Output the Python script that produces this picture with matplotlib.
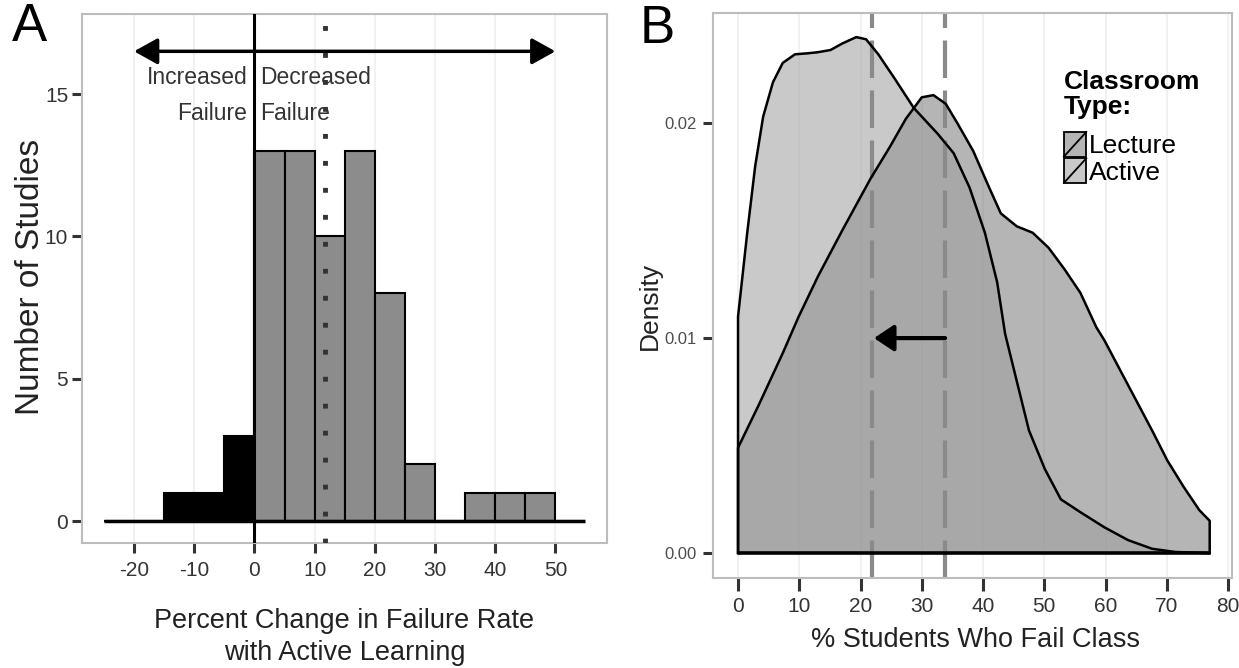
import numpy as np
import matplotlib
matplotlib.use("Agg")
import matplotlib.pyplot as plt
from matplotlib.legend_handler import HandlerBase
from matplotlib.patches import Rectangle, Patch
from matplotlib.lines import Line2D

plt.rcParams['font.family'] = ['Liberation Sans', 'DejaVu Sans']

# ---- panel A: histogram of percent change in failure rate
bin_edges = list(range(-25, 60, 5))
counts = [0, 0, 1, 1, 3, 13, 13, 10, 13, 8, 2, 0, 1, 1, 1, 0]
mean_change = 11.7
arrow_span = (-20, 50)
arrow_y = 16.5
xticks_a = [-20, -10, 0, 10, 20, 30, 40, 50]
yticks_a = [0, 5, 10, 15]

# ---- panel B: density of % students failing
active_x = [0, 1.5, 2.8, 4.1, 5.7, 7.3, 9.3, 11.5, 13.1, 15.1, 17.0, 19.3, 20.9, 22.9,
            25.5, 28.7, 32.6, 35.2, 37.8, 40.3, 42.3, 43.6, 45.5, 47.5, 50.1, 52.7,
            55.9, 59.8, 63.7, 67.6, 71.4, 77]
active_y = [11.0, 14.9, 18.0, 20.3, 21.9, 22.8, 23.2, 23.25, 23.3, 23.4, 23.7, 24.0, 23.9, 23.2,
            22.1, 20.7, 19.5, 18.6, 17.0, 14.9, 12.6, 10.2, 8.0, 5.7, 3.9, 2.5,
            1.9, 1.2, 0.6, 0.2, 0.05, 0.0]
lecture_x = [0, 3.4, 7.3, 9.9, 13.1, 17.0, 21.6, 24.8, 27.4, 30.0, 31.9, 33.9, 35.8, 38.4,
             41.0, 42.9, 45.5, 48.1, 50.7, 53.3, 55.9, 58.5, 59.8, 62.4, 65.0, 67.6,
             70.1, 72.7, 75.3, 77]
lecture_y = [4.9, 6.9, 9.3, 11.0, 12.9, 15.0, 17.4, 18.9, 20.2, 21.2, 21.3, 20.9, 20.0, 18.7,
             17.0, 15.8, 15.2, 14.9, 14.2, 13.2, 12.1, 10.5, 9.9, 8.5, 7.1, 5.7,
             4.3, 3.1, 2.0, 1.5]
active_y = [v / 1000 for v in active_y]
lecture_y = [v / 1000 for v in lecture_y]
active_mean = 21.8
lecture_mean = 33.8
xticks_b = list(range(0, 90, 10))
yticks_b = [0.0, 0.01, 0.02]
ytick_labels_b = ['0.00', '0.01', '0.02']


class SlashKey(HandlerBase):
    # ggplot-style key: filled box with a diagonal stroke
    def create_artists(self, legend, orig_handle, xdescent, ydescent, width, height, fontsize, trans):
        r = Rectangle((-xdescent, -ydescent), width, height, facecolor=orig_handle.get_facecolor(),
                      edgecolor='black', lw=1.3, transform=trans)
        l = Line2D([-xdescent, -xdescent + width], [-ydescent, -ydescent + height],
                   color='black', lw=1.3, transform=trans)
        return [r, l]


fig = plt.figure(figsize=(12.39, 6.68), dpi=100)
axA = fig.add_axes([0.0662, 0.1871, 0.4237, 0.7919])
axB = fig.add_axes([0.5755, 0.1347, 0.4189, 0.8458])

for ax in (axA, axB):
    for s in ax.spines.values():
        s.set_color('#bdbdbd')
        s.set_linewidth(1.5)
    ax.set_axisbelow(True)
    ax.grid(axis='x', color='#efefef', lw=1.2)
    ax.tick_params(length=7, width=2.2, color='#333333', labelcolor='#333333')

# panel A
lefts = bin_edges[:-1]
colors = ['black' if l < 0 else '#8c8c8c' for l in lefts]
axA.bar(lefts, counts, width=5, align='edge', color=colors, edgecolor='black', lw=1.5, zorder=2)
axA.hlines(0, bin_edges[0], bin_edges[-1], color='black', lw=2.5, zorder=2.5)
axA.axvline(0, color='black', lw=2.2, zorder=3)
axA.axvline(mean_change, color='#333333', lw=3.5, ls=(0, (1, 4.55)), zorder=3.5)
axA.annotate('', xy=(arrow_span[1], arrow_y), xytext=(arrow_span[0], arrow_y),
             arrowprops=dict(arrowstyle='<|-|>,head_length=0.72,head_width=0.4', mutation_scale=20,
                             lw=2.5, color='black', shrinkA=0, shrinkB=0), zorder=4)
axA.text(-1.2, 14.95, 'Increased\nFailure', ha='right', va='center', multialignment='right',
         fontsize=16.5, color='#333333', linespacing=1.7)
axA.text(1.0, 14.95, 'Decreased\nFailure', ha='left', va='center', multialignment='left',
         fontsize=16.5, color='#333333', linespacing=1.7)

axA.set_xlim(-28.64, 58.57)
axA.set_ylim(-0.77, 17.81)
axA.set_xticks(xticks_a)
axA.set_xticklabels([str(t) for t in xticks_a])
axA.set_yticks(yticks_a)
axA.tick_params(axis='both', labelsize=15)
axA.tick_params(axis='x', pad=6)
axA.tick_params(axis='y', pad=3)
axA.set_xlabel('Percent Change in Failure Rate\nwith Active Learning', fontsize=19.5,
               linespacing=1.3, va='center', color='#222222')
axA.xaxis.set_label_coords(0.5, -0.177)
axA.set_ylabel('Number of Studies', fontsize=24, va='center', color='#222222')
axA.yaxis.set_label_coords(-0.099, 0.503)

# panel B
axB.fill_between(lecture_x, lecture_y, color='#787878', alpha=0.55, lw=0, zorder=2)
axB.fill_between(active_x, active_y, color='#9e9e9e', alpha=0.55, lw=0, zorder=2.1)
for m in (active_mean, lecture_mean):
    axB.axvline(m, color='#8a8a8a', lw=3, ls=(0, (9, 3)), zorder=2.5)
for xs, ys in ((lecture_x, lecture_y), (active_x, active_y)):
    axB.plot([xs[0]] + xs + [xs[-1]], [0] + ys + [0], color='black', lw=1.8, zorder=3)
axB.hlines(0, active_x[0], active_x[-1], color='black', lw=2.6, zorder=3.1)
axB.annotate('', xy=(22.2, 0.01), xytext=(lecture_mean, 0.01),
             arrowprops=dict(arrowstyle='-|>,head_length=0.6,head_width=0.4', mutation_scale=20,
                             lw=3, color='black', shrinkA=0, shrinkB=0), zorder=5)

axB.set_xlim(-4.08, 80.65)
axB.set_ylim(-0.00116, 0.02512)
axB.set_xticks(xticks_b)
axB.set_yticks(yticks_b)
axB.set_yticklabels(ytick_labels_b)
axB.tick_params(axis='x', labelsize=15, length=9, pad=5)
axB.tick_params(axis='y', labelsize=12, pad=5, labelcolor='#4d4d4d')
axB.set_xlabel('% Students Who Fail Class', fontsize=19.5, va='center', color='#222222')
axB.xaxis.set_label_coords(0.505, -0.110)
axB.set_ylabel('Density', fontsize=19, va='center', color='#222222')
axB.yaxis.set_label_coords(-0.121, 0.481)

handles = [Patch(facecolor='#787878', alpha=0.55), Patch(facecolor='#9e9e9e', alpha=0.55)]
leg = axB.legend(handles, ['Lecture', 'Active'], title='Classroom\nType:',
                 handler_map={Patch: SlashKey()}, loc='upper left', bbox_to_anchor=(0.676, 0.90),
                 frameon=False, fontsize=19, title_fontproperties={'weight': 'bold', 'size': 19},
                 alignment='left', borderpad=0, borderaxespad=0, handlelength=0.85,
                 handleheight=1.06, handletextpad=0.1, labelspacing=0.0)
leg.get_title().set_linespacing(1.1)
leg._legend_box.sep = 9  # gap between title and keys

fig.text(12 / 1239, 0.9964, 'A', fontsize=38, va='top', ha='left')
fig.text(640 / 1239, 0.9934, 'B', fontsize=38, va='top', ha='left')

fig.savefig('out.png', dpi=100)
